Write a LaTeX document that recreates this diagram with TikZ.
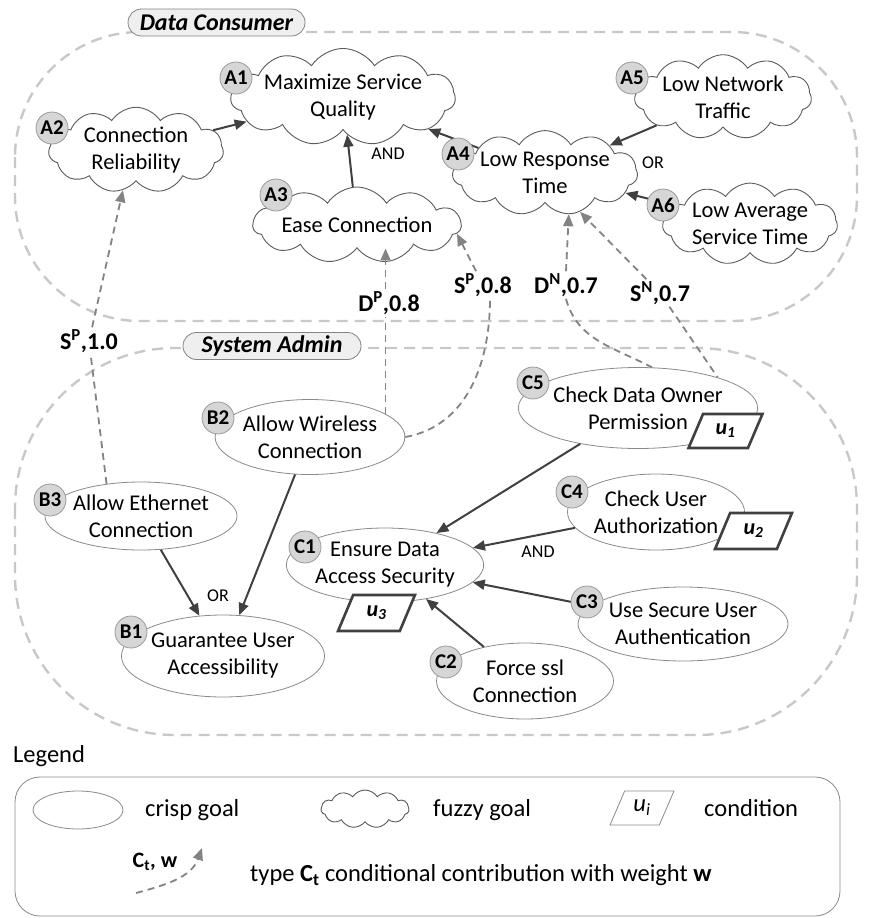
\documentclass[tikz,border=0pt]{standalone}
\usepackage{fontspec}
\setmainfont{Carlito}
\usetikzlibrary{shapes.geometric,shapes.symbols,arrows.meta}

\definecolor{edgecol}{HTML}{404040}
\definecolor{contribcol}{HTML}{838383}
\definecolor{groupcol}{HTML}{C8C8C8}
\definecolor{badgefill}{HTML}{D6D6D6}
\definecolor{badgedraw}{HTML}{9A9A9A}
\definecolor{goalline}{HTML}{8A8A8A}
\definecolor{cloudline}{HTML}{5A5A5A}
\definecolor{pillfill}{HTML}{EFEFEF}

\newcommand\goalfont{\fontsize{22.5}{27}\selectfont}
\newcommand\legendfont{\fontsize{24.5}{29}\selectfont}

\tikzset{
  crispgoal/.style={ellipse, draw=goalline, line width=0.8pt, fill=white,
    inner sep=0pt, align=center, font=\goalfont},
  fuzzygoal/.style={cloud, cloud puffs=11, cloud puff arc=115, cloud ignores aspect,
    draw=cloudline, line width=0.9pt, fill=white, inner sep=0pt, align=center, font=\goalfont},
  badge/.style={circle, draw=badgedraw, fill=badgefill, line width=0.8pt,
    minimum size=32pt, inner sep=0pt, font=\fontsize{21}{21}\selectfont\bfseries},
  condbox/.style={trapezium, trapezium left angle=65, trapezium right angle=115,
    trapezium stretches=true, draw=edgecol, line width=2.6pt, fill=white, inner sep=0pt,
    font=\fontsize{22}{22}\selectfont\bfseries\itshape},
  refine/.style={draw=edgecol, line width=2pt, -{Triangle[length=12pt,width=10pt]}},
  contrib/.style={draw=contribcol, line width=1.8pt, dash pattern=on 7pt off 5pt},
  contribarrow/.style={contrib, -{Triangle[length=12pt,width=10pt]}},
  contriblabel/.style={font=\fontsize{24}{24}\selectfont\bfseries, inner sep=2pt},
  gatelabel/.style={font=\fontsize{18}{18}\selectfont, inner sep=1pt},
  groupframe/.style={draw=groupcol, line width=2.4pt, dash pattern=on 11pt off 7pt},
  grouplabel/.style={rectangle, rounded corners=13.5pt, draw=contribcol, fill=pillfill,
    line width=0.8pt, minimum height=27pt, inner sep=0pt,
    font=\fontsize{24}{24}\selectfont\bfseries\itshape},
  legendtext/.style={font=\legendfont, inner sep=0pt, anchor=west},
}

\begin{document}
\begin{tikzpicture}[x=1pt,y=1pt]
\useasboundingbox (0,0) rectangle (868,-918);

% actor boundaries
\draw[groupframe, rounded corners=125pt] (15,-32) rectangle (857,-321);
\draw[groupframe, rounded corners=160pt] (15,-348) rectangle (857,-735);
\node[grouplabel, minimum width=177pt] (dcLabel) at (216.5,-22.5) {Data Consumer};
\node[grouplabel, minimum width=178pt] (saLabel) at (272,-346) {System Admin};

% fuzzy goals of the data consumer
\node[fuzzygoal, minimum width=205pt, minimum height=75pt] (A1) at (343,-97) {Maximize Service\\Quality};
\node[fuzzygoal, minimum width=175pt, minimum height=72pt] (A2) at (136,-150) {Connection\\Reliability};
\node[fuzzygoal, minimum width=175pt, minimum height=76pt] (A3) at (357,-225) {Ease Connection};
\node[fuzzygoal, minimum width=176pt, minimum height=77pt] (A4) at (545,-173) {Low Response\\Time};
\node[fuzzygoal, minimum width=177pt, minimum height=75pt] (A5) at (723,-97) {Low Network\\Traffic};
\node[fuzzygoal, minimum width=175pt, minimum height=75pt] (A6) at (750,-224) {Low Average\\Service Time};

% crisp goals of the system admin
\node[crispgoal, minimum width=177pt, minimum height=75pt] (B2) at (310,-437) {Allow Wireless\\Connection};
\node[crispgoal, minimum width=177pt, minimum height=68pt] (B3) at (141,-516) {Allow Ethernet\\Connection};
\node[crispgoal, minimum width=184pt, minimum height=82pt] (B1) at (223,-656) {Guarantee User\\Accessibility};
\node[crispgoal, minimum width=176pt, minimum height=74pt] (C1) at (385,-565) {Ensure Data\\Access Security};
\node[crispgoal, minimum width=213pt, minimum height=81pt] (C5) at (638,-408) {Check Data Owner\\Permission};
\node[crispgoal, minimum width=177pt, minimum height=76pt] (C4) at (656,-512) {Check User\\Authorization};
\node[crispgoal, minimum width=176pt, minimum height=74pt] (C3) at (683,-624) {Use Secure User\\Authentication};
\node[crispgoal, minimum width=177pt, minimum height=76pt] (C2) at (525,-681) {Force ssl\\Connection};

% refinements
\draw[refine] (A2) -- (A1);
\draw[refine] (A3) -- (A1);
\draw[refine] (A4) -- (A1);
\draw[refine] (A5) -- (A4);
\draw[refine] (A6) -- (A4);
\draw[refine] (B3) -- (B1);
\draw[refine] (B2) -- (B1);
\draw[refine] (C5) -- (C1);
\draw[refine] (C4) -- (C1);
\draw[refine] (C3) -- (C1);
\draw[refine] (C2) -- (C1);

\node[gatelabel] (andA) at (388,-154) {AND};
\node[gatelabel] (orA) at (653,-163) {OR};
\node[gatelabel] (orB) at (218,-596) {OR};
\node[gatelabel] (andC) at (538,-552) {AND};

% conditional contributions
\node[contriblabel] (lSP10) at (89,-341) {S\textsuperscript{P},1.0};
\node[contriblabel] (lDP8) at (389,-303) {D\textsuperscript{P},0.8};
\node[contriblabel] (lSP8) at (483,-285) {S\textsuperscript{P},0.8};
\node[contriblabel] (lDN7) at (566,-285) {D\textsuperscript{N},0.7};
\node[contriblabel] (lSN7) at (660,-293) {S\textsuperscript{N},0.7};

\draw[contrib] (B3.137) -- (lSP10);
\draw[contribarrow] (lSP10) -- (A2.-108);

\draw[contrib] (B2.17) -- (B2.17 |- lDP8.south);
\draw[contribarrow] (B2.17 |- lDP8.north) -- (B2.17 |- A3.south);

\draw[contrib] (B2.east) to[out=10, in=-90] ([xshift=7pt]lSP8.south);
\draw[contribarrow] (lSP8) -- (A3.-5);

\draw[contribarrow] (lDN7.north) -- (A4.-60);
\draw[contrib] (lDN7.south) to[out=-75, in=152] (C5.71);

\draw[contribarrow] (lSN7) -- (A4.-48);
\draw[contrib] (lSN7) -- (C5.21);

% badges
\node[badge] (bA1) at (236,-78) {A1};
\node[badge] (bA2) at (52,-128) {A2};
\node[badge] (bA3) at (276,-195) {A3};
\node[badge] (bA4) at (458,-154) {A4};
\node[badge] (bA5) at (632,-78) {A5};
\node[badge] (bA6) at (663,-205) {A6};
\node[badge] (bB2) at (218,-418) {B2};
\node[badge] (bB3) at (50,-500) {B3};
\node[badge] (bB1) at (131,-632) {B1};
\node[badge] (bC1) at (305,-547) {C1};
\node[badge] (bC5) at (533,-383) {C5};
\node[badge] (bC4) at (572,-492) {C4};
\node[badge] (bC3) at (587,-602) {C3};
\node[badge] (bC2) at (446,-662) {C2};

% conditions
\node[condbox, minimum width=74pt, minimum height=34pt] (u1) at (725.5,-431) {u\textsubscript{1}};
\node[condbox, minimum width=77pt, minimum height=36pt] (u2) at (753.5,-531) {u\textsubscript{2}};
\node[condbox, minimum width=77pt, minimum height=36pt] (u3) at (376.5,-613) {u\textsubscript{3}};

% legend
\node[legendtext] (lgTitle) at (13,-756) {Legend};
\draw[draw=goalline, line width=0.8pt, rounded corners=25pt] (15,-777) rectangle (840,-916);
\node[crispgoal, minimum width=90pt, minimum height=38pt] (lgCrisp) at (78,-810) {};
\node[legendtext] (lgCrispText) at (145,-810) {crisp goal};
\node[fuzzygoal, minimum width=88pt, minimum height=38pt] (lgFuzzy) at (365,-809) {};
\node[legendtext] (lgFuzzyText) at (433,-810) {fuzzy goal};
\node[condbox, draw=goalline, line width=0.8pt, minimum width=64pt, minimum height=34pt,
  font=\legendfont\itshape] (lgCond) at (642,-808) {u\textsubscript{i}};
\node[legendtext] (lgCondText) at (704,-808) {condition};
\coordinate (lgFrom) at (136,-893);
\coordinate (lgTo) at (202,-848);
\draw[contribarrow] (lgFrom) to[out=15, in=-110] (lgTo);
\node[contriblabel, font=\fontsize{22}{22}\selectfont\bfseries] (lgArrowLabel) at (155,-862) {C\textsubscript{t}, w};
\node[legendtext] (lgArrowText) at (250,-875) {type \textbf{C\textsubscript{t}} conditional contribution with weight \textbf{w}};
\end{tikzpicture}
\end{document}
